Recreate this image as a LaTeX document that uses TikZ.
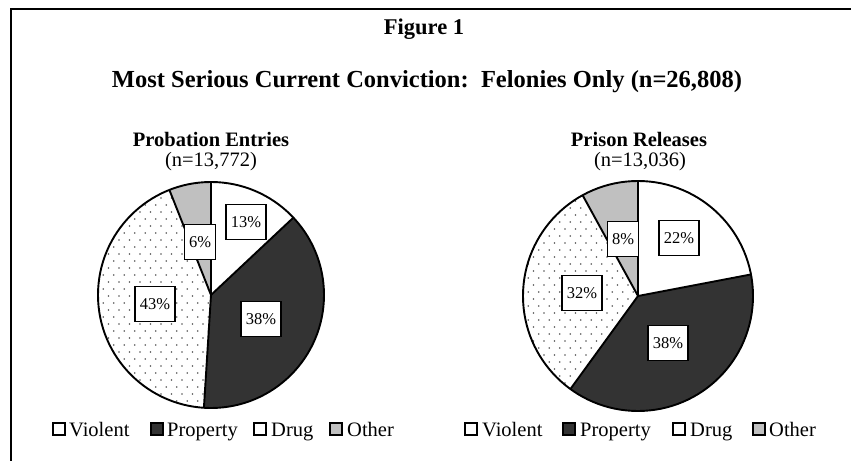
\documentclass[tikz,border=0pt]{standalone}
\usepackage{fontspec}
\setmainfont{Liberation Serif}
\definecolor{propgray}{HTML}{333333}
\definecolor{othgray}{HTML}{C0C0C0}
\definecolor{dotgray}{HTML}{555555}
\newcommand{\pieslice}[6]{% center x, center y, r, a1, a2, fill
  \fill[#6] (#1,#2) -- ++(#4:#3) arc[start angle=#4, end angle=#5, radius=#3] -- cycle;}
\newcommand{\dotslice}[5]{% cx, cy, r, a1, a2
  \begin{scope}
    \clip (#1,#2) -- ++(#4:#3) arc[start angle=#4, end angle=#5, radius=#3] -- cycle;
    \foreach \i in {0,...,34}{
      \foreach \j in {0,...,22}{
        \pgfmathsetmacro{\dx}{#1-#3+\j*10.5+mod(\i,2)*5.25}
        \pgfmathsetmacro{\dy}{#2-#3+\i*7}
        \fill[dotgray] (\dx,\dy) circle[radius=0.9];
      }
    }
  \end{scope}}
\tikzset{
  pctbox/.style={draw=black, line width=1.9pt, fill=white, inner xsep=4.5pt, minimum height=35pt,
    font=\fontsize{16.5}{19}\selectfont},
  legsq/.style={draw=black, line width=1.9pt, minimum size=12pt, inner sep=0pt},
  legtxt/.style={anchor=base west, inner sep=0pt, font=\fontsize{20.5}{24}\selectfont},
  ttl/.style={font=\bfseries\fontsize{22.5}{26}\selectfont, inner sep=0pt},
  mainttl/.style={font=\bfseries\fontsize{24.5}{28}\selectfont, inner sep=0pt},
  subttl/.style={font=\bfseries\fontsize{20.5}{24}\selectfont, inner sep=0pt},
  ntxt/.style={font=\fontsize{20.5}{24}\selectfont, inner sep=0pt},
  pieline/.style={draw=black, line width=1.9pt}
}
\begin{document}
\begin{tikzpicture}[x=1pt,y=1pt]
\useasboundingbox (0,0) rectangle (851,461);
\fill[white] (0,0) rectangle (851,461);
% frame
\coordinate (fr) at (851,452);
\coordinate (fc) at (11,452);
\coordinate (fb) at (11,0);
\draw[line width=2.4pt] (fr) -- (fc) -- (fb);
% titles
\node[ttl] (fig) at (424,432) {Figure 1};
\node[mainttl] (main) at (427,379) {Most Serious Current Conviction:\ \ Felonies Only (n=26,808)};
\node[subttl] (pe) at (211,322) {Probation Entries};
\node[ntxt] (pen) at (211,299) {(n=13,772)};
\node[subttl] (pr) at (639,322) {Prison Releases};
\node[ntxt] (prn) at (640,299) {(n=13,036)};
% left pie
\pieslice{211}{166}{113}{90}{43.2}{white}
\pieslice{211}{166}{113}{43.2}{-93.6}{propgray}
\pieslice{211}{166}{113}{-93.6}{-248.4}{white}
\dotslice{211}{166}{113}{-93.6}{-248.4}
\pieslice{211}{166}{113}{-248.4}{-270}{othgray}
\foreach \a in {90,43.2,-93.6,-248.4}{\draw[pieline] (211,166) -- ++(\a:113);}
\draw[pieline] (211,166) circle[radius=113];
% right pie
\pieslice{638}{165}{115}{90}{10.8}{white}
\pieslice{638}{165}{115}{10.8}{-126}{propgray}
\pieslice{638}{165}{115}{-126}{-241.2}{white}
\dotslice{638}{165}{115}{-126}{-241.2}
\pieslice{638}{165}{115}{-241.2}{-270}{othgray}
\foreach \a in {90,10.8,-126,-241.2}{\draw[pieline] (638,165) -- ++(\a:115);}
\draw[pieline] (638,165) circle[radius=115];
% percentage labels
\node[pctbox] (l13) at (246,239) {13\%};
\node[pctbox] (l6) at (200,219) {6\%};
\node[pctbox] (l43) at (155,157) {43\%};
\node[pctbox] (l38) at (261,142) {38\%};
\node[pctbox] (r22) at (679,223) {22\%};
\node[pctbox] (r8) at (623,222) {8\%};
\node[pctbox] (r32) at (582,168) {32\%};
\node[pctbox] (r38) at (668,118) {38\%};
% left legend
\node[legsq, fill=white, anchor=west] (lsq1) at (52,32) {};
\node[legtxt] (lt1) at (69,25) {Violent};
\node[legsq, fill=propgray, anchor=west] (lsq2) at (150,32) {};
\node[legtxt] (lt2) at (167,25) {Property};
\node[legsq, fill=white, anchor=west] (lsq3) at (253,32) {};
\node[legtxt] (lt3) at (271,25) {Drug};
\node[legsq, fill=othgray, anchor=west] (lsq4) at (329,32) {};
\node[legtxt] (lt4) at (347,25) {Other};
% right legend
\node[legsq, fill=white, anchor=west] (rsq1) at (464,32) {};
\node[legtxt] (rt1) at (482,25) {Violent};
\node[legsq, fill=propgray, anchor=west] (rsq2) at (562,32) {};
\node[legtxt] (rt2) at (580,25) {Property};
\node[legsq, fill=white, anchor=west] (rsq3) at (672,32) {};
\node[legtxt] (rt3) at (690,25) {Drug};
\node[legsq, fill=othgray, anchor=west] (rsq4) at (752,32) {};
\node[legtxt] (rt4) at (769,25) {Other};
\end{tikzpicture}
\end{document}
